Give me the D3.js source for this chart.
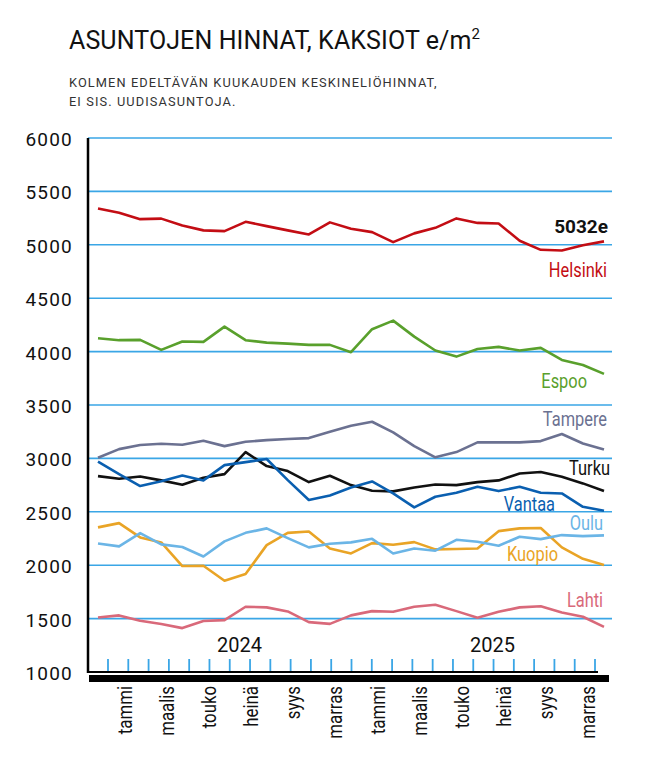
<!DOCTYPE html>
<html>
<head>
<meta charset="utf-8">
<script src="https://cdn.jsdelivr.net/npm/d3@7"></script>
<style>
body { margin: 0; background: #fff; }
text { font-family: Roboto, "Liberation Sans", sans-serif; }
</style>
</head>
<body>
<svg id="chart" width="650" height="761"></svg>
<script>
// months of the data (first point = joulukuu 2023)
const months = ['2023-12','2024-01','2024-02','2024-03','2024-04','2024-05','2024-06','2024-07','2024-08','2024-09','2024-10','2024-11','2024-12',
	'2025-01','2025-02','2025-03','2025-04','2025-05','2025-06','2025-07','2025-08','2025-09','2025-10','2025-11','2025-12']
const labelMonths = ['2024-01','2024-03','2024-05','2024-07','2024-09','2024-11','2025-01','2025-03','2025-05','2025-07','2025-09','2025-11']
const monthLabels = ['tammi','maalis','touko','heinä','syys','marras','tammi','maalis','touko','heinä','syys','marras']
const years = ['2024','2025']
const yTicks = [1000, 1500, 2000, 2500, 3000, 3500, 4000, 4500, 5000, 5500, 6000]

// e/m2 values
const helsinki = [5340,5300,5240,5245,5180,5135,5128,5215,5175,5135,5097,5210,5150,5119,5025,5107,5159,5247,5205,5200,5038,4953,4947,4995,5032]
const espoo = [4125,4107,4110,4016,4094,4091,4234,4107,4084,4075,4063,4063,3994,4210,4290,4140,4010,3953,4025,4044,4010,4035,3922,3875,3791]
const tampere = [3006,3087,3125,3137,3128,3165,3115,3156,3171,3181,3190,3249,3305,3343,3243,3115,3010,3059,3150,3150,3150,3162,3228,3140,3084]
const turku = [2834,2809,2831,2794,2753,2819,2853,3059,2928,2881,2778,2837,2750,2697,2691,2728,2755,2750,2778,2794,2859,2872,2828,2766,2694]
const vantaa = [2969,2853,2741,2787,2840,2794,2937,2965,2994,2797,2610,2653,2728,2784,2672,2541,2641,2678,2734,2694,2734,2678,2672,2547,2510]
const oulu = [2204,2176,2301,2195,2170,2082,2223,2303,2345,2254,2167,2201,2214,2247,2110,2157,2136,2238,2219,2182,2266,2244,2282,2272,2279]
const kuopio = [2354,2394,2260,2213,1992,1995,1854,1917,2188,2303,2316,2157,2110,2207,2191,2216,2148,2151,2157,2319,2345,2348,2167,2060,2001]
const lahti = [1511,1530,1480,1449,1411,1477,1486,1611,1605,1567,1467,1451,1530,1570,1564,1611,1630,1570,1508,1564,1605,1615,1558,1517,1423]

const series = [
	{ name: 'Lahti', values: lahti, color: '#d9697a' },
	{ name: 'Kuopio', values: kuopio, color: '#e9a426' },
	{ name: 'Oulu', values: oulu, color: '#6bb5e6' },
	{ name: 'Turku', values: turku, color: '#111111' },
	{ name: 'Vantaa', values: vantaa, color: '#0a5fb0' },
	{ name: 'Tampere', values: tampere, color: '#6b7191' },
	{ name: 'Espoo', values: espoo, color: '#59a02c' },
	{ name: 'Helsinki', values: helsinki, color: '#c30d14' }
]

const svg = d3.select('#chart')
const textColor = '#111'
const gridColor = '#3aa6e6'
const condensed = 0.8

const xScale = d3.scalePoint()
	.domain(months)
	.range([98, 604])

// the small ticks at the bottom sit on their own slightly narrower spacing
const tickScale = d3.scalePoint()
	.domain(months)
	.range([108, 595])

const yScale = d3.scaleLinear()
	.domain([1000, 6000])
	.range([672, 138])

// title
const title = svg.append('text')
	.attr('x', 69).attr('y', 49)
	.style('font-size', '25px')
	.style('letter-spacing', '0.1px')
	.attr('fill', textColor)
title.append('tspan').text('ASUNTOJEN HINNAT, KAKSIOT e/m')
title.append('tspan').text('2').attr('dy', -10).style('font-size', '15px')

svg.append('text').attr('x', 69).attr('y', 87)
	.text('KOLMEN EDELTÄVÄN KUUKAUDEN KESKINELIÖHINNAT,')
	.style('font-size', '12.8px').style('letter-spacing', '1.1px').attr('fill', '#333')
svg.append('text').attr('x', 69).attr('y', 105.5)
	.text('EI SIS. UUDISASUNTOJA.')
	.style('font-size', '12.8px').style('letter-spacing', '1.1px').attr('fill', '#333')

// horizontal grid
svg.selectAll('line.grid')
	.data(yTicks.filter(d => d > 1000))
	.enter()
	.append('line')
	.attr('class', 'grid')
	.attr('x1', 88).attr('x2', 612)
	.attr('y1', d => yScale(d)).attr('y2', d => yScale(d))
	.style('stroke', gridColor)
	.style('stroke-width', 1.6)

// y labels
svg.selectAll('text.ylab')
	.data(yTicks)
	.enter()
	.append('text')
	.attr('class', 'ylab')
	.attr('x', 73)
	.attr('y', d => yScale(d) + 8)
	.attr('text-anchor', 'end')
	.style('font-size', '19px')
	.style('letter-spacing', '1.2px')
	.attr('fill', textColor)
	.text(d => d)

// small blue ticks
svg.selectAll('line.mtick')
	.data(months)
	.enter()
	.append('line')
	.attr('class', 'mtick')
	.attr('x1', d => tickScale(d)).attr('x2', d => tickScale(d))
	.attr('y1', 659).attr('y2', 671)
	.style('stroke', gridColor)
	.style('stroke-width', 1.8)

// year labels
svg.selectAll('text.year')
	.data(years)
	.enter()
	.append('text')
	.attr('class', 'year')
	.attr('x', d => (xScale(d + '-01') + xScale(d + '-12')) / 2 + 4.5)
	.attr('y', 652)
	.attr('text-anchor', 'middle')
	.style('font-size', '20px')
	.attr('fill', textColor)
	.text(d => d)

// lines
const line = d3.line()
	.x((d, i) => xScale(months[i]))
	.y(d => yScale(d))

svg.selectAll('path.series')
	.data(series)
	.enter()
	.append('path')
	.attr('class', 'series')
	.attr('d', d => line(d.values))
	.style('fill', 'none')
	.style('stroke', d => d.color)
	.style('stroke-width', 2.6)
	.style('stroke-linejoin', 'round')

// axes
svg.append('line').attr('x1', 88).attr('x2', 88).attr('y1', 138).attr('y2', 673)
	.style('stroke', '#000').style('stroke-width', 2.5)
svg.append('line').attr('x1', 87).attr('x2', 598).attr('y1', 672).attr('y2', 672)
	.style('stroke', '#000').style('stroke-width', 2)
svg.append('rect').attr('x', 89).attr('y', 675).attr('width', 520).attr('height', 7).style('fill', '#000')

// month labels, rotated
svg.selectAll('text.month')
	.data(labelMonths)
	.enter()
	.append('text')
	.attr('class', 'month')
	.attr('transform', d => `translate(${xScale(d) + 12.5}, 686) rotate(-90) scale(${condensed}, 1)`)
	.attr('text-anchor', 'end')
	.style('font-size', '21px')
	.attr('fill', textColor)
	.text((d, i) => monthLabels[i])

// series labels (right edge x, baseline as a value on the y scale)
const labels = [
	{ name: 'Helsinki', x: 607, v: 4701 },
	{ name: 'Espoo', x: 587, v: 3656 },
	{ name: 'Tampere', x: 607, v: 3300 },
	{ name: 'Turku', x: 610, v: 2845 },
	{ name: 'Vantaa', x: 555, v: 2508 },
	{ name: 'Oulu', x: 603, v: 2330 },
	{ name: 'Kuopio', x: 558, v: 2042 },
	{ name: 'Lahti', x: 603, v: 1611 }
]
svg.selectAll('text.slab')
	.data(labels)
	.enter()
	.append('text')
	.attr('class', 'slab')
	.attr('transform', d => `translate(${d.x}, ${yScale(d.v)}) scale(${condensed}, 1)`)
	.attr('text-anchor', 'end')
	.style('font-size', '20.5px')
	.attr('fill', d => series.find(s => s.name === d.name).color)
	.text(d => d.name)

// last value of Helsinki
svg.append('text')
	.attr('x', 608)
	.attr('y', yScale(5113))
	.attr('text-anchor', 'end')
	.style('font-size', '19px')
	.style('font-weight', 'bold')
	.attr('fill', textColor)
	.text(helsinki[helsinki.length - 1] + 'e')
</script>
</body>
</html>
